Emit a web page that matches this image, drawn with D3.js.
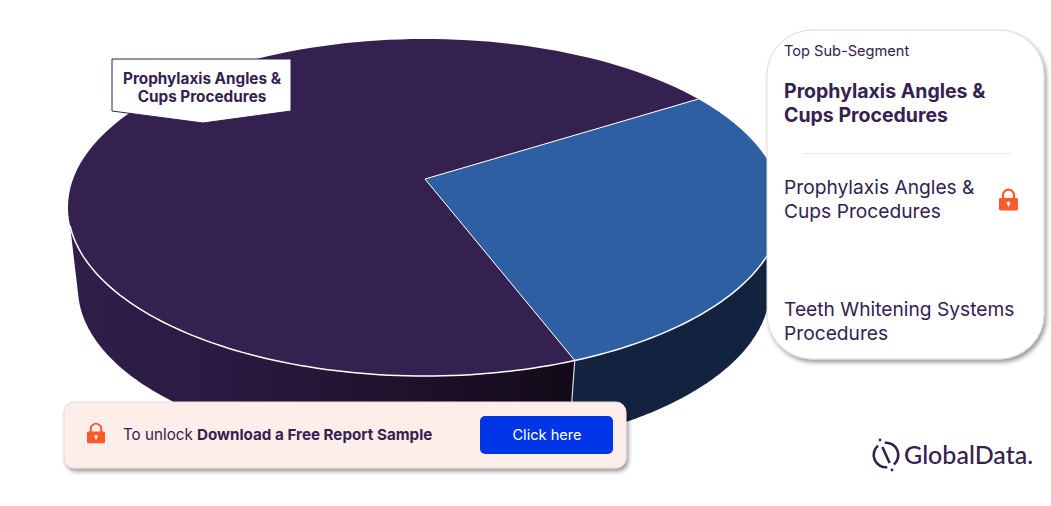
<!DOCTYPE html>
<html>
<head>
<meta charset="utf-8">
<script src="https://cdn.jsdelivr.net/npm/d3@7"></script>
<style>
  html, body { margin: 0; padding: 0; background: #fff; overflow: hidden; }
  svg { display: block; }
  text { font-family: Inter, "Noto Sans", sans-serif; fill: #35214f; }
</style>
</head>
<body>
<div id="chart"></div>
<script>
const categories = ["Prophylaxis Angles & Cups Procedures", "Teeth Whitening Systems Procedures"];
const shares = [71.9, 28.1];
const sliceColors = ["#35214f", "#2f5fa3"];
const sideColors = ["url(#darkSide)", "#13233f"];

const panelTitle = "Top Sub-Segment";
const topSegment = ["Prophylaxis Angles &", "Cups Procedures"];
const segmentRows = [
  { lines: ["Prophylaxis Angles &", "Cups Procedures"], y: 194, locked: true },
  { lines: ["Teeth Whitening Systems", "Procedures"], y: 316, locked: false },
];

const width = 1051;
const height = 506;
const ink = "#35214f";
const orange = "#fb5a2b";

const svg = d3.select("#chart").append("svg").attr("width", width).attr("height", height);
const defs = svg.append("defs");

const grad = defs.append("linearGradient").attr("id", "darkSide")
  .attr("gradientUnits", "userSpaceOnUse")
  .attr("x1", 69).attr("x2", 574).attr("y1", 0).attr("y2", 0);
grad.append("stop").attr("offset", 0).attr("stop-color", "#2f1e49");
grad.append("stop").attr("offset", 0.3).attr("stop-color", "#2b1a41");
grad.append("stop").attr("offset", 1).attr("stop-color", "#120a18");

const shadow = defs.append("filter").attr("id", "shadow")
  .attr("x", "-10%").attr("y", "-10%").attr("width", "120%").attr("height", "125%");
shadow.append("feDropShadow").attr("dx", 2).attr("dy", 3).attr("stdDeviation", 2)
  .attr("flood-color", "#000").attr("flood-opacity", 0.4);

// tilted disc: a unit circle seen in perspective, so the centre sits above the ellipse middle
const tilt = -0.1692;
const xScale = d3.scaleLinear().domain([-1, 1]).range([73.1, 776.9]);
const yScale = d3.scaleLinear().domain([-1, 1]).range([15.3, 342.7]);

function topPoint(a) {
  const u = Math.sin(a), v = -Math.cos(a);
  const w = 1 + tilt * v;
  return [xScale(u / w), yScale(v / w)];
}
// bottom rim is a slightly smaller copy of the top one, shifted down
function bottomPoint(a) {
  const p = topPoint(a);
  return [424 + (p[0] - 425) * 346 / 357, 288 + (p[1] - 207.5) * 165 / 168.5];
}

const deg = Math.PI / 180;
const pie = d3.pie().sort(null)
  .startAngle(159 * deg)
  .endAngle((159 + 360) * deg);
const arcs = pie(shares);

const line = d3.line();
const sample = (a0, a1) => d3.range(0, 121).map((i) => a0 + (a1 - a0) * i / 120);

// visible part of the side wall for each slice: top rim from/to, bottom rim from/to
const sideRanges = [
  [159, 254.1, 159, 257.2],
  [105.9, 159, 105.9, 159],
];

const pieG = svg.append("g");

sideRanges.forEach((r, i) => {
  const upper = sample(r[0] * deg, r[1] * deg).map(topPoint);
  const lower = sample(r[2] * deg, r[3] * deg).map(bottomPoint).reverse();
  pieG.append("path").attr("d", line(upper.concat(lower)) + "Z").attr("fill", sideColors[i]);
});

arcs.forEach((d, i) => {
  const pts = [[xScale(0), yScale(0)]].concat(sample(d.startAngle, d.endAngle).map(topPoint));
  pieG.append("path").attr("d", line(pts) + "Z").attr("fill", sliceColors[i]);
});

// white rim and slice edges
pieG.append("path")
  .attr("d", line(sample(105.9 * deg, 254.1 * deg).map(topPoint)))
  .attr("fill", "none").attr("stroke", "#fff").attr("stroke-width", 1.5);
arcs.forEach((d) => {
  pieG.append("path")
    .attr("d", line([[xScale(0), yScale(0)], topPoint(d.startAngle)]))
    .attr("stroke", "#fff").attr("stroke-width", 1);
});
pieG.append("path")
  .attr("d", line([topPoint(arcs[0].startAngle), bottomPoint(arcs[0].startAngle)]))
  .attr("stroke", "#d8d8dc").attr("stroke-width", 1.2);

// callout on the largest slice
svg.append("path")
  .attr("d", line([[112, 59], [291, 59], [291, 111], [203, 123], [112, 111]]) + "Z")
  .attr("fill", "#fff").attr("stroke", ink).attr("stroke-width", 1);
const calloutText = svg.append("g").attr("text-anchor", "middle")
  .attr("font-size", 15.3).attr("font-weight", 700);
calloutText.append("text").attr("x", 202).attr("y", 84).text(topSegment[0]);
calloutText.append("text").attr("x", 202).attr("y", 102).text(topSegment[1]);

function drawLock(x, y, w) {
  const g = svg.append("g").attr("transform", `translate(${x},${y}) scale(${w / 20})`);
  g.append("path").attr("d", "M4.2 10V6.5a5.8 5.8 0 0 1 11.6 0V10")
    .attr("fill", "none").attr("stroke", orange).attr("stroke-width", 2.2);
  g.append("rect").attr("x", 0).attr("y", 9.5).attr("width", 20).attr("height", 13).attr("rx", 1.5).attr("fill", orange);
  g.append("circle").attr("cx", 10).attr("cy", 15).attr("r", 1.8).attr("fill", "#fff");
  g.append("rect").attr("x", 9.3).attr("y", 15).attr("width", 1.4).attr("height", 3.6).attr("fill", "#fff");
}

// right panel
svg.append("rect").attr("x", 767).attr("y", 30).attr("width", 277).attr("height", 329).attr("rx", 45)
  .attr("fill", "#fff").attr("stroke", "#dcdcdc").attr("stroke-width", 1).attr("filter", "url(#shadow)");
svg.append("text").attr("x", 784).attr("y", 56).attr("font-size", 14.6).text(panelTitle);
topSegment.forEach((t, i) => {
  svg.append("text").attr("x", 784).attr("y", 98 + i * 24)
    .attr("font-size", 19.5).attr("font-weight", 700).text(t);
});
svg.append("line").attr("x1", 802).attr("x2", 1011).attr("y1", 153.5).attr("y2", 153.5)
  .attr("stroke", "#e6e6e8");
segmentRows.forEach((row) => {
  row.lines.forEach((t, i) => {
    svg.append("text").attr("x", 784).attr("y", row.y + i * 24).attr("font-size", 19.2).text(t);
  });
  if (row.locked) drawLock(999, 189, 19);
});

// unlock bar
svg.append("rect").attr("x", 64).attr("y", 402).attr("width", 562).attr("height", 66).attr("rx", 10)
  .attr("fill", "#feeeea").attr("stroke", "#e4dcdc").attr("filter", "url(#shadow)");
drawLock(87, 423, 18);
const unlock = svg.append("text").attr("x", 123).attr("y", 440).attr("font-size", 15.2);
unlock.append("tspan").text("To unlock ");
unlock.append("tspan").attr("font-weight", 700).text("Download a Free Report Sample");
svg.append("rect").attr("x", 480).attr("y", 416).attr("width", 133).attr("height", 38).attr("rx", 5).attr("fill", "#0035e6");
svg.append("text").attr("x", 547).attr("y", 440).attr("text-anchor", "middle").attr("font-size", 14.6)
  .style("fill", "#fff").text("Click here");

// logo
const logo = svg.append("g").attr("transform", "translate(886,455)");
const ring = d3.arc().innerRadius(11).outerRadius(13.6);
logo.append("path").attr("d", ring({ startAngle: -0.1, endAngle: 2.44 })).attr("fill", ink);
logo.append("path").attr("d", ring({ startAngle: 3.04, endAngle: 5.58 })).attr("fill", ink);
logo.append("line").attr("x1", -3.6).attr("y1", -8).attr("x2", 3.6).attr("y2", 8)
  .attr("stroke", ink).attr("stroke-width", 2.6);
logo.append("circle").attr("cx", -6).attr("cy", -15).attr("r", 1.4).attr("fill", ink);
logo.append("circle").attr("cx", 6).attr("cy", 15).attr("r", 1.4).attr("fill", ink);
svg.append("text").attr("x", 904).attr("y", 464).attr("font-size", 25)
  .style("font-family", "Lato, sans-serif").attr("font-weight", 500).text("GlobalData.");
</script>
</body>
</html>
